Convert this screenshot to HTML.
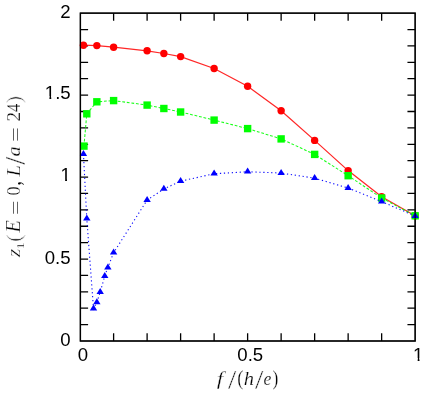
<!DOCTYPE html>
<html><head><meta charset="utf-8"><title>chart</title>
<style>
html,body{margin:0;padding:0;background:#fff;}
body{width:425px;height:394px;overflow:hidden;font-family:"Liberation Sans",sans-serif;}
svg{display:block;will-change:transform;}
</style></head><body>
<svg width="425" height="394" viewBox="0 0 425 394" role="img" aria-label="z1(E=0, L/a=24) versus f/(h/e)">
<rect width="425" height="394" fill="#ffffff"/>
<g stroke="#000000" stroke-width="1.30" fill="none" stroke-linecap="butt">
<rect x="80.40" y="13.15" width="334.75" height="327.85"/>
<path d="M113.61 341.00V333.30M113.61 13.15V20.85M147.11 341.00V333.30M147.11 13.15V20.85M180.61 341.00V333.30M180.61 13.15V20.85M214.12 341.00V333.30M214.12 13.15V20.85M247.62 341.00V333.30M247.62 13.15V20.85M281.13 341.00V333.30M281.13 13.15V20.85M314.64 341.00V333.30M314.64 13.15V20.85M348.14 341.00V333.30M348.14 13.15V20.85M381.65 341.00V333.30M381.65 13.15V20.85M80.40 324.61H88.10M415.15 324.61H407.45M80.40 308.21H88.10M415.15 308.21H407.45M80.40 291.82H88.10M415.15 291.82H407.45M80.40 275.43H88.10M415.15 275.43H407.45M80.40 259.04H88.10M415.15 259.04H407.45M80.40 242.64H88.10M415.15 242.64H407.45M80.40 226.25H88.10M415.15 226.25H407.45M80.40 209.86H88.10M415.15 209.86H407.45M80.40 193.47H88.10M415.15 193.47H407.45M80.40 177.07H88.10M415.15 177.07H407.45M80.40 160.68H88.10M415.15 160.68H407.45M80.40 144.29H88.10M415.15 144.29H407.45M80.40 127.90H88.10M415.15 127.90H407.45M80.40 111.50H88.10M415.15 111.50H407.45M80.40 95.11H88.10M415.15 95.11H407.45M80.40 78.72H88.10M415.15 78.72H407.45M80.40 62.33H88.10M415.15 62.33H407.45M80.40 45.93H88.10M415.15 45.93H407.45M80.40 29.54H88.10M415.15 29.54H407.45"/>
</g>
<polyline points="83.45,45.20 96.85,45.60 113.61,47.20 147.11,50.80 163.86,53.50 180.61,56.60 214.12,68.50 247.62,86.30 281.13,110.80 314.64,140.40 348.14,170.60 381.65,196.80 415.15,215.80" fill="none" stroke="#ff0000" stroke-width="1.25" stroke-opacity="0.85"/>
<circle cx="83.45" cy="45.20" r="3.70" fill="#ff0000"/>
<circle cx="96.85" cy="45.60" r="3.70" fill="#ff0000"/>
<circle cx="113.61" cy="47.20" r="3.70" fill="#ff0000"/>
<circle cx="147.11" cy="50.80" r="3.70" fill="#ff0000"/>
<circle cx="163.86" cy="53.50" r="3.70" fill="#ff0000"/>
<circle cx="180.61" cy="56.60" r="3.70" fill="#ff0000"/>
<circle cx="214.12" cy="68.50" r="3.70" fill="#ff0000"/>
<circle cx="247.62" cy="86.30" r="3.70" fill="#ff0000"/>
<circle cx="281.13" cy="110.80" r="3.70" fill="#ff0000"/>
<circle cx="314.64" cy="140.40" r="3.70" fill="#ff0000"/>
<circle cx="348.14" cy="170.60" r="3.70" fill="#ff0000"/>
<circle cx="381.65" cy="196.80" r="3.70" fill="#ff0000"/>
<circle cx="415.15" cy="215.80" r="3.70" fill="#ff0000"/>
<polyline points="83.95,146.10 86.80,113.80 96.85,101.80 113.61,100.60 147.11,105.10 163.86,108.50 180.61,112.00 214.12,120.10 247.62,128.60 281.13,138.90 314.64,154.40 348.14,175.70 381.65,198.00 415.15,215.80" fill="none" stroke="#00ff00" stroke-width="1.05" stroke-opacity="0.9" stroke-dasharray="2.8 1.8"/>
<rect x="80.25" y="142.40" width="7.40" height="7.40" fill="#00ff00"/>
<rect x="83.10" y="110.10" width="7.40" height="7.40" fill="#00ff00"/>
<rect x="93.15" y="98.10" width="7.40" height="7.40" fill="#00ff00"/>
<rect x="109.91" y="96.90" width="7.40" height="7.40" fill="#00ff00"/>
<rect x="143.41" y="101.40" width="7.40" height="7.40" fill="#00ff00"/>
<rect x="160.16" y="104.80" width="7.40" height="7.40" fill="#00ff00"/>
<rect x="176.91" y="108.30" width="7.40" height="7.40" fill="#00ff00"/>
<rect x="210.42" y="116.40" width="7.40" height="7.40" fill="#00ff00"/>
<rect x="243.93" y="124.90" width="7.40" height="7.40" fill="#00ff00"/>
<rect x="277.43" y="135.20" width="7.40" height="7.40" fill="#00ff00"/>
<rect x="310.94" y="150.70" width="7.40" height="7.40" fill="#00ff00"/>
<rect x="344.44" y="172.00" width="7.40" height="7.40" fill="#00ff00"/>
<rect x="377.95" y="194.30" width="7.40" height="7.40" fill="#00ff00"/>
<rect x="411.45" y="212.10" width="7.40" height="7.40" fill="#00ff00"/>
<polyline points="83.45,154.15 86.80,218.75 93.50,308.65 96.85,302.35 100.20,292.05 104.76,276.05 107.84,267.55 113.61,252.75 147.11,200.05 163.86,188.95 180.61,181.15 214.12,173.75 247.62,171.75 281.13,173.05 314.64,178.15 348.14,188.05 381.65,201.65 415.15,216.05" fill="none" stroke="#0000ff" stroke-width="1.1" stroke-opacity="0.95" stroke-dasharray="1.25 2.7"/>
<polygon points="83.45,150.00 79.75,156.00 87.15,156.00" fill="#0000ff"/>
<polygon points="86.80,214.60 83.10,220.60 90.50,220.60" fill="#0000ff"/>
<polygon points="93.50,304.50 89.80,310.50 97.20,310.50" fill="#0000ff"/>
<polygon points="96.85,298.20 93.15,304.20 100.55,304.20" fill="#0000ff"/>
<polygon points="100.20,287.90 96.50,293.90 103.90,293.90" fill="#0000ff"/>
<polygon points="104.76,271.90 101.06,277.90 108.46,277.90" fill="#0000ff"/>
<polygon points="107.84,263.40 104.14,269.40 111.54,269.40" fill="#0000ff"/>
<polygon points="113.61,248.60 109.91,254.60 117.31,254.60" fill="#0000ff"/>
<polygon points="147.11,195.90 143.41,201.90 150.81,201.90" fill="#0000ff"/>
<polygon points="163.86,184.80 160.16,190.80 167.56,190.80" fill="#0000ff"/>
<polygon points="180.61,177.00 176.91,183.00 184.31,183.00" fill="#0000ff"/>
<polygon points="214.12,169.60 210.42,175.60 217.82,175.60" fill="#0000ff"/>
<polygon points="247.62,167.60 243.93,173.60 251.32,173.60" fill="#0000ff"/>
<polygon points="281.13,168.90 277.43,174.90 284.83,174.90" fill="#0000ff"/>
<polygon points="314.64,174.00 310.94,180.00 318.34,180.00" fill="#0000ff"/>
<polygon points="348.14,183.90 344.44,189.90 351.84,189.90" fill="#0000ff"/>
<polygon points="381.65,197.50 377.95,203.50 385.35,203.50" fill="#0000ff"/>
<polygon points="415.15,211.90 411.45,217.90 418.85,217.90" fill="#0000ff"/>
<rect x="80.40" y="13.15" width="334.75" height="327.85" fill="none" stroke="#000000" stroke-width="1.30" opacity="0.85"/>
<g font-family="'Liberation Sans', sans-serif" font-size="18.60" fill="#000000">
<text x="60.16" y="345.75">0</text>
<text x="44.64" y="263.59">0.5</text>
<text x="60.56" y="181.42">1</text>
<text x="44.84" y="99.36">1.5</text>
<text x="60.16" y="17.80">2</text>
<text x="77.73" y="360.75">0</text>
<text x="237.35" y="360.75">0.5</text>
<text x="413.08" y="360.75">1</text>
</g>
<rect x="61.46" y="179.00" width="3.67" height="4.00" fill="#ffffff"/>
<rect x="66.98" y="179.00" width="3.49" height="4.00" fill="#ffffff"/>
<rect x="45.75" y="96.00" width="3.67" height="5.00" fill="#ffffff"/>
<rect x="51.26" y="96.00" width="3.49" height="5.00" fill="#ffffff"/>
<rect x="413.99" y="358.00" width="3.67" height="4.00" fill="#ffffff"/>
<rect x="419.50" y="358.00" width="3.49" height="4.00" fill="#ffffff"/>
<g font-family="'Liberation Serif', serif" fill="#000000">
<text transform="translate(216.85 384.80) scale(1.268 1)" font-size="18.71" font-style="italic" stroke="#ffffff" stroke-width="0.28">f</text>
<text transform="translate(227.88 389.15) scale(1.076 1)" font-size="27.57" stroke="#ffffff" stroke-width="0.42">/</text>
<text transform="translate(237.28 385.08) scale(0.921 1)" font-size="20.29" stroke="#ffffff" stroke-width="0.25">(</text>
<text transform="translate(243.78 384.68) scale(1.115 1)" font-size="18.39" font-style="italic" stroke="#ffffff" stroke-width="0.20">h</text>
<text transform="translate(254.88 389.15) scale(1.089 1)" font-size="27.57" stroke="#ffffff" stroke-width="0.42">/</text>
<text transform="translate(263.48 384.81) scale(0.987 1)" font-size="17.80" font-style="italic" stroke="#ffffff" stroke-width="0.20">e</text>
<text transform="translate(272.54 385.08) scale(0.863 1)" font-size="20.29" stroke="#ffffff" stroke-width="0.25">)</text>
</g>
<g font-family="'Liberation Serif', serif" fill="#000000" transform="translate(0 258.00) rotate(-90)">
<text transform="translate(0.96 20.18) scale(1.144 1)" font-size="18.65" font-style="italic" stroke="#ffffff" stroke-width="0.36">z</text>
<text transform="translate(9.08 23.58) scale(1.146 1)" font-size="11.30" stroke="#ffffff" stroke-width="0.20">1</text>
<text transform="translate(15.97 20.65) scale(1.092 1)" font-size="21.40" stroke="#ffffff" stroke-width="0.55" fill="#3a3a3a">(</text>
<text transform="translate(25.46 20.18) scale(1.014 1)" font-size="20.10" font-style="italic" stroke="#ffffff" stroke-width="0.28">E</text>
<text transform="translate(42.81 22.00) scale(1.355 1)" font-size="19.44" stroke="#ffffff" stroke-width="0.22">=</text>
<text transform="translate(62.52 20.49) scale(0.925 1)" font-size="19.80" stroke="#ffffff" stroke-width="0.28">0</text>
<text transform="translate(72.57 20.49) scale(0.800 1)" font-size="22.04">,</text>
<text transform="translate(81.56 20.18) scale(1.053 1)" font-size="19.64" font-style="italic" stroke="#ffffff" stroke-width="0.28">L</text>
<text transform="translate(93.28 24.84) scale(0.988 1)" font-size="28.91" stroke="#ffffff" stroke-width="0.45">/</text>
<text transform="translate(101.51 20.00) scale(1.151 1)" font-size="17.80" font-style="italic" stroke="#ffffff" stroke-width="0.28">a</text>
<text transform="translate(115.99 22.00) scale(1.377 1)" font-size="19.44" stroke="#ffffff" stroke-width="0.22">=</text>
<text transform="translate(136.47 20.18) scale(1.020 1)" font-size="18.97" stroke="#ffffff" stroke-width="0.26">2</text>
<text transform="translate(146.09 20.18) scale(0.875 1)" font-size="19.08" stroke="#ffffff" stroke-width="0.26">4</text>
<text transform="translate(155.11 20.65) scale(1.001 1)" font-size="21.40" stroke="#ffffff" stroke-width="0.55" fill="#3a3a3a">)</text>
</g>
</svg>
</body></html>
